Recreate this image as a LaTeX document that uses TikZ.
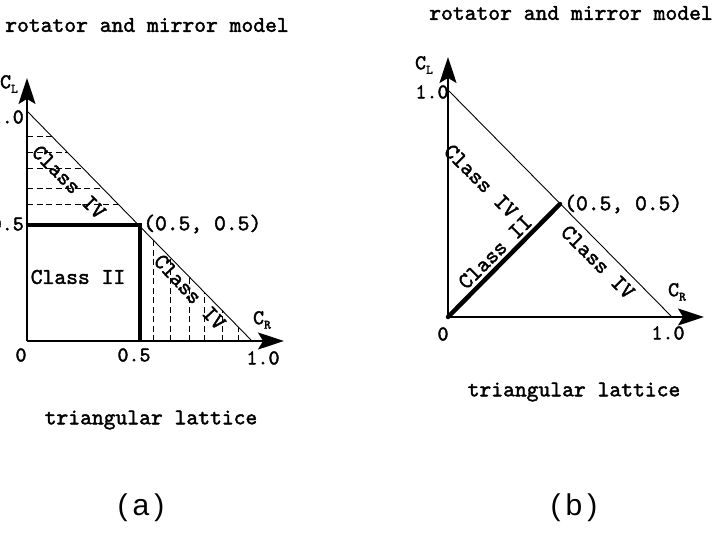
\documentclass[tikz,border=0pt]{standalone}
\usepackage{fontspec}
\newfontfamily\helv{Liberation Sans}
\newfontfamily\cour{lmmono10-regular}[Extension=.otf, FakeBold=1.8]
\usetikzlibrary{arrows.meta}
\newcommand{\subl}[1]{\raisebox{-0.5ex}{\fontsize{13}{14}\selectfont #1}}
\tikzset{
  x=1pt,y=-1pt,
  txt/.style={font=\cour\fontsize{22.5}{25}\selectfont, inner sep=0pt},
  tick/.style={font=\cour\fontsize{21}{24}\selectfont, inner sep=0pt},
  axis/.style={line width=1.6pt, -{Stealth[length=26pt,width=17pt,inset=5pt]}},
  thin/.style={line width=0.9pt},
  thick4/.style={line width=4.5pt},
  dsh/.style={line width=0.7pt, dash pattern=on 6pt off 3.5pt},
  plabel/.style={font=\helv\fontsize{30}{34}\selectfont, inner sep=0pt}
}
\begin{document}
\begin{tikzpicture}
\useasboundingbox (0,0) rectangle (715,543);
% ---------------- panel (a) ----------------
\coordinate (Oa) at (27,341);
\coordinate (Ta) at (27,111);
\coordinate (Ra) at (252,341);
\coordinate (Ma) at (140,225);
\coordinate (Ya) at (27,78);
\coordinate (Xa) at (284,341);
% dashed hatching
\foreach \y/\x in {136/51.5,152/67,168/83,188/102,204/118}
  \draw[dsh] (27,\y) -- (\x,\y);
\foreach \x/\y in {153/240,170/257,189/276.6,204/292,222/310,238/327}
  \draw[dsh] (\x,341) -- (\x,\y);
\draw[thin] (Ta) -- (Ra);
\draw[thick4] (Oa |- Ma) -- (Ma) -- (Ma |- Oa);
\draw[axis] (Oa) -- (Ya);
\draw[axis] (Oa) -- (Xa);
\node[txt] (ta) at (147,25) {rotator and mirror model};
\node[tick] (cla) at (9,84) {C\subl{L}};
\node[tick, anchor=east] (ya1) at (24,117) {1.0};
\node[tick, anchor=east] (ya5) at (24,224) {0.5};
\node[tick] (xa0) at (21,355) {0};
\node[tick] (xa5) at (134,355) {0.5};
\node[tick] (xa1) at (263,358) {1.0};
\node[tick] (cra) at (262,320) {C\subl{R}};
\node[txt, anchor=west] (pa) at (143,224) {(0.5, 0.5)};
\node[txt] (c2a) at (78,277) {Class II};
\node[txt, rotate=-45] (c4a) at (69,182) {Class IV};
\node[txt, rotate=-47] (c4b) at (190,292) {Class IV};
\node[txt] (la) at (151,420) {triangular lattice};
\node[plabel] (lba) at (141,508) {(\,a\,)};
% ---------------- panel (b) ----------------
\coordinate (Ob) at (448,317);
\coordinate (Tb) at (448,90);
\coordinate (Rb) at (672,317);
\coordinate (Mb) at (560,204);
\coordinate (Yb) at (448,57);
\coordinate (Xb) at (704,317);
\draw[thin] (Tb) -- (Rb);
\draw[thick4, line cap=round] (Ob) -- (Mb);
\draw[axis] (Ob) -- (Yb);
\draw[axis] (Ob) -- (Xb);
\node[txt] (tb) at (571,13) {rotator and mirror model};
\node[tick] (clb) at (424,65) {C\subl{L}};
\node[tick] (yb1) at (432,92) {1.0};
\node[tick] (xb0) at (443,334) {0};
\node[tick] (xb1) at (668,333) {1.0};
\node[tick] (crb) at (677,292) {C\subl{R}};
\node[txt, anchor=west] (pb) at (564,204) {(0.5, 0.5)};
\node[txt, rotate=-45] (c4c) at (481,181) {Class IV};
\node[txt, rotate=45] (c2b) at (495,252) {Class II};
\node[txt, rotate=-45] (c4d) at (598,262) {Class IV};
\node[txt] (lb) at (574,392) {triangular lattice};
\node[plabel] (lbb) at (574,508) {(\,b\,)};
\end{tikzpicture}
\end{document}
